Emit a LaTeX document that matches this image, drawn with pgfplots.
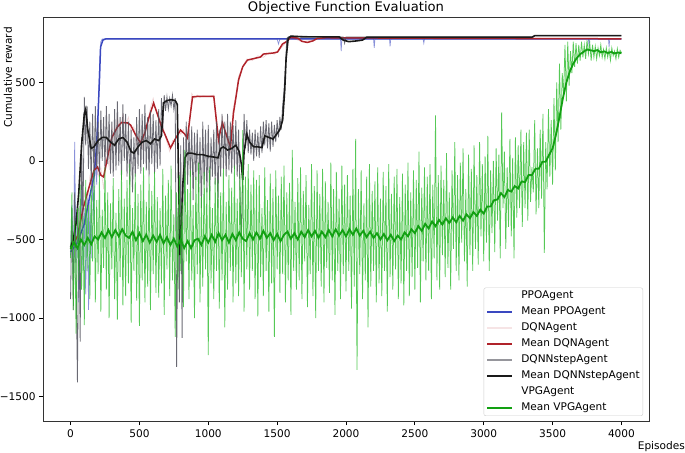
\documentclass[border=0pt]{standalone}
\usepackage{fontspec}
\setmainfont{DejaVu Sans}
\usepackage{pgfplots}
\pgfplotsset{compat=1.18}
\usetikzlibrary{calc}
\definecolor{MBlue}{HTML}{3A48C0}
\definecolor{MRed}{HTML}{B0232A}
\definecolor{MBlack}{HTML}{1A1A1A}
\definecolor{MGreen}{HTML}{12A012}
\definecolor{RGreen}{HTML}{2CBC2C}
\definecolor{RGray}{HTML}{50505A}
\begin{document}
\begin{tikzpicture}
\begin{axis}[
  scale only axis, width=606bp, height=404bp,
  xmin=-200, xmax=4200, ymin=-1656, ymax=917,
  axis line style={draw=black!80, line width=0.8bp},
  tick align=outside, tick pos=left, major tick length=4bp,
  tick style={black, line width=0.8bp},
  xtick={0,500,...,4000},
  xticklabels={0,500,1000,1500,2000,2500,3000,3500,4000},
  ytick={-1500,-1000,-500,0,500},
  yticklabels={−1500,−1000,−500,0,500},
  ticklabel style={font=\fontsize{10.6}{12}\selectfont},
  xticklabel style={yshift=-1.5bp},
  legend style={at={(1,0)}, anchor=south east, xshift=-6bp, yshift=5bp,
    draw=black!20, rounded corners=2bp, fill=white,
    font=\fontsize{10.6}{12}\selectfont, row sep=5bp, column sep=8bp, inner sep=2.5bp,
    nodes={inner sep=0.5bp, text height=7.7bp, text depth=2.3bp}},
  legend cell align=left,
  legend image code/.code={\draw[#1, line width=1.5bp] (0bp,0bp) -- (25bp,0bp);},
  clip=true,
]
% PPO raw
\addplot[forget plot, MBlue, opacity=0.6, line width=0.7bp] coordinates {
(0,-600)(10,-280)(20,-760)(30,121)(40,-650)(50,-350)(60,-900)(70,-420)(80,-150)(90,-700)
(100,-300)(110,-850)(120,-200)(131,-949)(140,-260)(150,-620)(160,-80)(170,-400)(180,60)(190,-150)
(200,300)(210,600)(220,760)(230,777)(1500,777)(1510,745)(1520,777)(1960,777)(1965,700)(1970,777)
(2200,777)(2205,720)(2210,777)(2316,777)(2320,730)(2325,777)(2560,777)(2565,750)(2570,777)
(3760,777)(3765,730)(3770,777)(3906,777)(3910,725)(3915,777)(4000,777)};
% PPO mean
\addplot[forget plot, MBlue, line width=1.5bp] coordinates {
(0,-580)(50,-520)(100,-400)(125,-290)(150,-180)(170,-100)(185,50)(196,217)(210,520)(218,726)
(235,770)(254,777)(4000,777)};
% DQN raw
\addplot[forget plot, MRed, opacity=0.2, line width=0.6bp] coordinates {
(0,-600)(20,-450)(40,-560)(60,-380)(80,-420)(100,-200)(120,-300)(140,-100)(160,-180)(180,20)
(200,-100)(220,-40)(240,-180)(260,80)(280,-40)(300,220)(320,140)(340,280)(360,200)(380,300)
(400,220)(420,280)(440,180)(460,220)(480,100)(500,160)(520,80)(540,230)(560,250)(580,340)
(600,400)(620,320)(640,270)(660,200)(680,180)(700,120)(720,60)(740,130)(760,100)(780,210)
(800,170)(820,200)(840,120)(860,180)(880,430)(900,400)(920,420)(940,405)(960,415)(1000,410)
(1040,420)(1060,200)(1080,100)(1100,280)(1120,200)(1140,120)(1160,60)(1180,330)(1200,420)(1220,540)
(1240,580)(1260,620)(1280,650)(1320,640)(1360,670)(1400,660)(1440,690)(1480,680)(1520,710)(1560,750)
(1600,785)(1680,760)(1760,770)(1800,785)(4000,780)};
% DQN mean
\addplot[forget plot, MRed, line width=1.5bp] coordinates {
(0,-560)(50,-480)(94,-293)(140,-150)(170,-60)(196,-38)(220,-90)(240,-102)(270,30)(300,150)
(341,217)(370,245)(414,242)(436,229)(470,170)(508,115)(540,180)(570,280)(603,369)(630,300)
(660,220)(690,160)(726,83)(760,140)(799,197)(830,170)(849,146)(870,300)(886,408)(930,412)
(1040,412)(1060,250)(1074,134)(1090,200)(1103,242)(1130,170)(1161,89)(1183,306)(1200,400)(1220,516)
(1250,600)(1285,643)(1330,652)(1379,662)(1401,681)(1474,688)(1503,694)(1539,745)(1575,764)(1597,788)
(1650,782)(1680,762)(1720,755)(1760,765)(1790,780)(1850,785)(2500,782)(4000,778)};
% DQNNstep raw
\addplot[forget plot, RGray, opacity=0.85, line width=0.8bp] coordinates {
(0,-880)(10,-300)(20,-950)(30,-200)(40,-700)(50,-1410)(60,-300)(70,-1150)(80,150)(90,-400)
(100,408)(110,100)(120,350)(130,-50)(140,250)(150,-150)(160,300)(170,-100)(180,350)(190,-50)
(200,250)(210,-100)(220,320)(230,0)(240,280)(250,-50)(260,350)(270,-20)(280,300)(290,-80)
(300,250)(310,-100)(320,330)(330,-60)(340,380)(350,-30)(360,280)(370,-120)(380,360)(390,0)
(400,300)(410,-100)(420,250)(430,-150)(440,200)(450,-200)(460,150)(470,-100)(480,280)(490,-50)
(500,330)(510,-80)(520,300)(530,-20)(540,360)(550,-60)(560,280)(570,-100)(580,320)(590,-20)
(600,300)(610,-80)(620,260)(630,-50)(640,330)(650,-30)(660,400)(670,200)(680,420)(690,320)
(700,410)(710,330)(720,400)(730,350)(740,420)(750,330)(760,400)(770,-1312)(780,-300)(790,-900)
(800,100)(810,-1127)(820,150)(830,-200)(840,250)(850,-150)(860,200)(870,-100)(880,220)(890,-250)
(900,180)(910,-120)(920,200)(930,-200)(940,150)(950,-300)(960,250)(970,-150)(980,200)(990,-200)
(1000,230)(1010,-250)(1020,150)(1030,-100)(1040,200)(1050,-150)(1060,250)(1070,-300)(1080,200)(1090,-100)
(1100,300)(1110,-50)(1120,250)(1130,-100)(1140,300)(1150,-60)(1160,250)(1170,-80)(1180,230)(1190,-50)
(1200,260)(1210,-100)(1220,200)(1230,-200)(1240,-500)(1250,-100)(1260,300)(1270,80)(1280,260)(1290,50)
(1300,200)(1310,40)(1320,180)(1330,0)(1340,200)(1350,30)(1360,180)(1370,20)(1380,220)(1390,50)
(1400,250)(1410,100)(1420,260)(1430,80)(1440,240)(1450,60)(1460,250)(1470,90)(1480,230)(1490,120)
(1500,260)(1510,150)(1520,280)(1530,200)(1540,350)(1550,450)(1560,600)(1570,780)(1580,790)(1600,795)
(1980,790)(1990,750)(2000,790)(3360,790)(3370,798)(4000,798)};
% DQNNstep mean
\addplot[forget plot, MBlack, line width=1.6bp] coordinates {
(0,-550)(20,-500)(40,-400)(60,-200)(80,100)(100,300)(110,330)(125,200)(150,80)(170,90)
(200,130)(230,150)(260,150)(290,120)(320,100)(350,140)(380,150)(410,120)(440,60)(460,50)
(490,90)(520,120)(550,130)(580,110)(610,140)(640,130)(660,160)(675,370)(700,385)(730,390)
(760,385)(775,360)(785,-150)(795,-600)(805,-400)(815,-150)(830,20)(850,50)(880,50)(920,40)
(960,40)(1000,30)(1040,25)(1070,20)(1090,80)(1110,90)(1140,70)(1170,80)(1200,100)(1225,60)
(1240,-20)(1250,-120)(1260,60)(1280,170)(1300,120)(1330,90)(1360,90)(1390,85)(1410,160)(1440,150)
(1470,140)(1500,175)(1520,200)(1540,260)(1555,450)(1565,650)(1580,780)(1600,795)(1700,790)(1950,790)
(1980,770)(2020,760)(2080,765)(2120,770)(2150,788)(3350,788)(3370,798)(4000,798)};
% VPG raw
\addplot[forget plot, RGreen, opacity=0.8, line width=0.75bp] coordinates {
(0,-620)(10,-200)(20,-950)(30,-380)(40,-1100)(50,-300)(60,-760)(70,-150)(80,-820)(90,-350)
(100,-1045)(110,-120)(120,-700)(130,-280)(140,-880)(150,-160)(160,-640)(170,-60)(180,-900)(190,-250)
(200,-720)(210,-90)(220,-960)(230,-310)(240,-680)(250,-40)(260,-820)(270,-200)(280,-1000)(290,-270)
(300,-690)(310,-110)(320,-880)(330,-330)(340,-1010)(350,-180)(360,-740)(370,-60)(380,-920)(390,-240)
(400,-860)(410,-120)(420,-780)(430,-20)(440,-1030)(450,-300)(460,-700)(470,-80)(480,-890)(490,-210)
(500,-1050)(510,-150)(520,-760)(530,-40)(540,-900)(550,-260)(560,-800)(570,-100)(580,-950)(590,-190)
(600,-720)(610,-70)(620,-840)(630,-230)(640,-870)(650,-300)(660,-780)(670,-50)(680,-980)(690,-220)
(700,-690)(710,-120)(720,-860)(730,-30)(740,-760)(750,-340)(760,-1120)(770,-200)(780,-820)(790,-90)
(800,-700)(810,-260)(820,-930)(830,70)(840,-640)(850,-180)(860,-880)(870,-60)(880,-760)(890,-280)
(900,-1000)(910,-100)(920,-720)(930,-10)(940,-900)(950,-230)(960,-800)(970,-70)(980,-690)(990,-170)
(1000,-1236)(1010,-40)(1020,-780)(1030,-300)(1040,-880)(1050,-110)(1060,-700)(1070,-120)(1080,-940)(1090,-200)
(1100,-760)(1110,-50)(1120,-1060)(1130,-260)(1140,-820)(1150,-90)(1160,-700)(1170,-170)(1180,-900)(1190,-30)
(1200,-780)(1210,-240)(1220,-860)(1230,-80)(1240,-740)(1250,197)(1260,-960)(1270,-100)(1280,-690)(1290,-20)
(1300,-820)(1310,-150)(1320,-700)(1330,-60)(1340,-880)(1350,-120)(1360,-990)(1370,-90)(1380,-740)(1390,-300)
(1400,-860)(1410,-40)(1420,-700)(1430,-250)(1440,-960)(1450,-80)(1460,-780)(1470,-180)(1480,-1121)(1490,-60)
(1500,-690)(1510,-220)(1520,-840)(1530,-100)(1540,-720)(1550,-30)(1560,-900)(1570,-200)(1580,-760)(1590,-140)
(1600,-980)(1610,70)(1620,-700)(1630,-260)(1640,-820)(1650,-110)(1660,-760)(1670,-40)(1680,-880)(1690,-190)
(1700,-640)(1710,-90)(1720,-930)(1730,-280)(1740,-720)(1750,-20)(1760,-860)(1770,-160)(1780,-1000)(1790,-60)
(1800,-700)(1810,-210)(1820,-800)(1830,-50)(1840,-900)(1850,-130)(1860,-680)(1870,-260)(1880,-840)(1890,-10)
(1900,-760)(1910,-180)(1920,-980)(1930,-70)(1940,-700)(1950,-240)(1960,-880)(1970,-30)(1980,-720)(1990,-150)
(2000,-830)(2010,-90)(2020,-700)(2030,-220)(2040,-940)(2050,-50)(2060,-800)(2070,140)(2080,-1331)(2090,-180)
(2100,-720)(2110,-60)(2120,-880)(2130,-270)(2140,-760)(2150,-100)(2160,-1060)(2170,-20)(2180,-800)(2190,-190)
(2200,-700)(2210,-130)(2220,-900)(2230,-40)(2240,-780)(2250,-240)(2260,-860)(2270,-70)(2280,-700)(2290,-160)
(2300,-960)(2310,-20)(2320,-740)(2330,-210)(2340,-820)(2350,-100)(2360,-690)(2370,-50)(2380,-880)(2390,-230)
(2400,-780)(2410,-80)(2420,-920)(2430,-150)(2440,-700)(2450,-10)(2460,-860)(2470,-200)(2480,-740)(2490,-60)
(2500,-820)(2510,-120)(2520,-680)(2530,60)(2540,-900)(2550,-170)(2560,-640)(2570,-40)(2580,-760)(2590,-100)
(2600,-700)(2610,-20)(2620,-880)(2630,-150)(2640,-620)(2650,290)(2660,-760)(2670,-90)(2680,-820)(2690,-30)
(2700,-600)(2710,-120)(2720,-740)(2730,50)(2740,-680)(2750,-200)(2760,-820)(2770,-60)(2780,-560)(2790,120)
(2800,-700)(2810,-90)(2820,-760)(2830,-10)(2840,-520)(2850,80)(2860,-640)(2870,-180)(2880,-800)(2890,40)
(2900,-600)(2910,-50)(2920,-700)(2930,100)(2940,-560)(2950,-90)(2960,-660)(2970,120)(2980,-480)(2990,-20)
(3000,-640)(3010,30)(3020,-520)(3030,160)(3040,-700)(3050,-60)(3060,-460)(3070,0)(3080,-580)(3090,80)
(3100,-380)(3110,40)(3120,-620)(3130,310)(3140,-300)(3150,60)(3160,-560)(3170,-40)(3180,-420)(3190,140)
(3200,-480)(3210,20)(3220,-620)(3230,150)(3240,-360)(3250,100)(3260,-300)(3270,200)(3280,-420)(3290,120)
(3300,-300)(3310,180)(3320,-380)(3330,200)(3340,-260)(3350,-40)(3360,-200)(3370,260)(3380,-340)(3390,80)
(3400,-300)(3410,200)(3420,-240)(3430,300)(3440,-586)(3450,120)(3460,-180)(3470,330)(3480,-100)(3490,260)
(3500,-150)(3510,400)(3520,-60)(3530,500)(3540,120)(3550,620)(3560,200)(3570,560)(3580,420)(3590,740)
(3600,380)(3610,760)(3620,480)(3630,700)(3640,560)(3650,760)(3660,600)(3670,750)(3680,620)(3690,740)
(3700,640)(3710,760)(3720,660)(3730,740)(3740,650)(3750,770)(3760,680)(3770,750)(3780,640)(3790,740)
(3800,660)(3810,730)(3820,650)(3830,720)(3840,670)(3850,740)(3860,660)(3870,710)(3880,650)(3890,720)
(3900,660)(3910,710)(3920,640)(3930,720)(3940,670)(3950,700)(3960,650)(3970,715)(3980,660)(3990,705)
(4000,690)};
% VPG mean
\addplot[forget plot, MGreen, line width=1.8bp] coordinates {
(0,-560)(25,-520)(50,-555)(75,-500)(100,-535)(125,-490)(150,-530)(175,-480)(200,-500)(225,-455)
(250,-490)(275,-440)(300,-485)(325,-440)(350,-480)(375,-435)(400,-475)(425,-490)(450,-450)(475,-505)
(500,-460)(525,-510)(550,-470)(575,-520)(600,-475)(625,-515)(650,-470)(675,-525)(700,-485)(725,-535)
(750,-495)(775,-545)(800,-500)(825,-555)(850,-510)(875,-555)(900,-505)(925,-495)(950,-535)(975,-480)
(1000,-520)(1025,-470)(1050,-515)(1075,-460)(1100,-505)(1125,-470)(1150,-520)(1175,-465)(1200,-505)(1225,-455)
(1250,-495)(1275,-510)(1300,-460)(1325,-500)(1350,-455)(1375,-495)(1400,-445)(1425,-490)(1450,-460)(1475,-505)
(1500,-465)(1525,-510)(1550,-470)(1575,-450)(1600,-495)(1625,-460)(1650,-500)(1675,-450)(1700,-485)(1725,-440)
(1750,-480)(1775,-445)(1800,-490)(1825,-450)(1850,-485)(1875,-440)(1900,-480)(1925,-435)(1950,-475)(1975,-440)
(2000,-480)(2025,-435)(2050,-470)(2075,-430)(2100,-475)(2125,-445)(2150,-485)(2175,-450)(2200,-490)(2225,-460)
(2250,-500)(2275,-465)(2300,-505)(2325,-470)(2350,-510)(2375,-475)(2400,-500)(2425,-455)(2450,-480)(2475,-435)
(2500,-460)(2525,-415)(2550,-445)(2575,-400)(2600,-430)(2625,-385)(2650,-415)(2675,-375)(2700,-405)(2725,-365)
(2750,-395)(2775,-360)(2800,-390)(2825,-350)(2850,-380)(2875,-340)(2900,-365)(2925,-325)(2950,-350)(2975,-310)
(3000,-335)(3025,-290)(3050,-290)(3075,-250)(3100,-245)(3125,-205)(3150,-230)(3175,-185)(3200,-195)(3225,-160)
(3250,-175)(3275,-130)(3300,-135)(3325,-90)(3350,-90)(3375,-50)(3400,-50)(3425,-5)(3450,-5)(3475,40)
(3500,80)(3525,170)(3550,280)(3575,400)(3600,500)(3625,570)(3650,620)(3675,655)(3700,680)(3725,695)
(3750,710)(3775,705)(3800,700)(3825,706)(3850,692)(3875,698)(3900,688)(3925,694)(3950,685)(3975,691)
(4000,686)};
\addlegendimage{white}\addlegendentry{PPOAgent}
\addlegendimage{MBlue}\addlegendentry{Mean PPOAgent}
\addlegendimage{MRed!12}\addlegendentry{DQNAgent}
\addlegendimage{MRed}\addlegendentry{Mean DQNAgent}
\addlegendimage{RGray!60}\addlegendentry{DQNNstepAgent}
\addlegendimage{MBlack}\addlegendentry{Mean DQNNstepAgent}
\addlegendimage{white}\addlegendentry{VPGAgent}
\addlegendimage{MGreen}\addlegendentry{Mean VPGAgent}
\end{axis}
\node[anchor=base, inner sep=0pt, font=\fontsize{13.2}{15}\selectfont] at ($(current axis.north)+(0,5bp)$) {Objective Function Evaluation};
\node[rotate=90, anchor=east, inner sep=0pt, font=\fontsize{10.6}{12}\selectfont] at ($(current axis.north west)+(-35bp,-10bp)$) {Cumulative reward};
\node[anchor=base east, inner sep=0pt, font=\fontsize{10.6}{12}\selectfont] at ($(current axis.south east)+(36bp,-28bp)$) {Episodes};
\pgfresetboundingbox
\path ($(current axis.south west)+(-43bp,-32bp)$) rectangle ($(current axis.north east)+(36bp,17bp)$);
\end{tikzpicture}
\end{document}
